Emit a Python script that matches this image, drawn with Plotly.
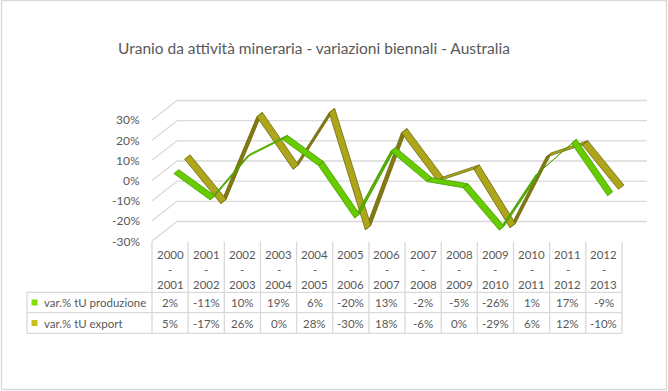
import plotly.graph_objects as go

# ---------------- data ----------------
start_years = ["2000", "2001", "2002", "2003", "2004", "2005", "2006",
               "2007", "2008", "2009", "2010", "2011", "2012"]
end_years = ["2001", "2002", "2003", "2004", "2005", "2006", "2007",
             "2008", "2009", "2010", "2011", "2012", "2013"]
prod = [2, -11, 10, 19, 6, -20, 13, -2, -5, -26, 1, 17, -9]
export = [5, -17, 26, 0, 28, -30, 18, -6, 0, -29, 6, 12, -10]
series_names = ["var.% tU produzione", "var.% tU export"]
y_ticks = [30, 20, 10, 0, -10, -20, -30]
y_tick_labels = ["30%", "20%", "10%", "0%", "-10%", "-20%", "-30%"]
title = "Uranio da attività mineraria - variazioni biennali - Australia"

# ---------------- geometry ----------------
W, H = 668, 391
X0 = 152.0      # px of left edge of first category (front plane)
CW = 36.15      # px per category
Y0 = 180.5      # px of 0% on front plane
PPU = 2.017     # px per 1%
DEP = (25.0, 19.5)  # px offset for full depth (right, up)
FONT = "Lato"
TXT = "#595959"
GRID = "#D9D9D9"


def ddx(d):
    return DEP[0] * d / CW


def ddy(d):
    return DEP[1] * d / PPU


def vy(py):
    return (Y0 - py) / PPU


def ux(px):
    return (px - X0) / CW - 0.5


def pxp(px):
    return px / W


def pyp(py):
    return 1 - py / H


fig = go.Figure()

# back wall gridlines + left side diagonals
shapes = []
for v in y_ticks:
    shapes.append(dict(type="line", xref="x", yref="y",
                       x0=-0.5 + ddx(1), x1=len(prod) - 0.5 + ddx(1),
                       y0=v + ddy(1), y1=v + ddy(1),
                       line=dict(color=GRID, width=1.3), layer="below"))
    shapes.append(dict(type="line", xref="x", yref="y",
                       x0=-0.5, x1=-0.5 + ddx(1),
                       y0=v, y1=v + ddy(1),
                       line=dict(color=GRID, width=1.3), layer="below"))


def ribbon(vals, d1, d2, light, dark, edge, name):
    tx, ty, bx, by = [], [], [], []
    for i in range(len(vals) - 1):
        a, b = vals[i], vals[i + 1]
        xs = [i + ddx(d1), i + 1 + ddx(d1), i + 1 + ddx(d2), i + ddx(d2), i + ddx(d1), None]
        ys = [a + ddy(d1), b + ddy(d1), b + ddy(d2), a + ddy(d2), a + ddy(d1), None]
        sx, sy = CW, (b - a) * PPU
        ex, ey = DEP[0] * (d2 - d1), DEP[1] * (d2 - d1)
        cross = sx * ey - sy * ex
        if cross >= 0:
            tx += xs
            ty += ys
        else:
            bx += xs
            by += ys
    fig.add_trace(go.Scatter(x=bx, y=by, mode="lines", fill="toself",
                             fillcolor=dark, line=dict(color=edge, width=0.8),
                             hoverinfo="skip", showlegend=False, name=name))
    fig.add_trace(go.Scatter(x=tx, y=ty, mode="lines", fill="toself",
                             fillcolor=light, line=dict(color=edge, width=0.8),
                             hoverinfo="skip", showlegend=False, name=name))


ribbon(export, 0.58, 0.8, "#ADA51A", "#827A10", "#6F6810", series_names[1])
ribbon(prod, 0.15, 0.35, "#66CC00", "#52B000", "#4A9A00", series_names[0])

annotations = []
# title
annotations.append(dict(text=title, xref="paper", yref="paper",
                        x=pxp(314), y=pyp(48), showarrow=False,
                        xanchor="center", yanchor="middle",
                        font=dict(family=FONT, size=15.5, color=TXT)))
# y tick labels
for v, lab in zip(y_ticks, y_tick_labels):
    annotations.append(dict(text=lab, xref="x", yref="y", x=ux(142), y=v,
                            showarrow=False, xanchor="right", yanchor="middle",
                            font=dict(family=FONT, size=12, color=TXT)))

# table
T_TOP, R1, R2, T_BOT = 241.7, 292.3, 312.7, 333.3
LEFT = 27.0
n = len(prod)
for k in range(n + 1):
    shapes.append(dict(type="line", xref="x", yref="y", x0=k - 0.5, x1=k - 0.5,
                       y0=vy(T_TOP), y1=vy(T_BOT), line=dict(color=GRID, width=1.3)))
for py in (R1, R2, T_BOT):
    shapes.append(dict(type="line", xref="x", yref="y", x0=ux(LEFT), x1=n - 0.5,
                       y0=vy(py), y1=vy(py), line=dict(color=GRID, width=1.3)))
shapes.append(dict(type="line", xref="x", yref="y", x0=ux(LEFT), x1=ux(LEFT),
                   y0=vy(R1), y1=vy(T_BOT), line=dict(color=GRID, width=1.3)))

tf = dict(family=FONT, size=11.5, color=TXT)
for i in range(n):
    annotations.append(dict(text=start_years[i], xref="x", yref="y", x=i, y=vy(254.5),
                            showarrow=False, font=tf))
    annotations.append(dict(text="-", xref="x", yref="y", x=i, y=vy(269.5),
                            showarrow=False, font=tf))
    annotations.append(dict(text=end_years[i], xref="x", yref="y", x=i, y=vy(284.5),
                            showarrow=False, font=tf))
    annotations.append(dict(text=f"{prod[i]}%", xref="x", yref="y", x=i, y=vy(302.5),
                            showarrow=False, font=tf))
    annotations.append(dict(text=f"{export[i]}%", xref="x", yref="y", x=i, y=vy(323),
                            showarrow=False, font=tf))

key_colors = ["#7FE000", "#C8BE1E"]
for j, (nm, kc, py) in enumerate(zip(series_names, key_colors, (302.5, 323))):
    shapes.append(dict(type="rect", xref="paper", yref="paper",
                       x0=pxp(31.5), x1=pxp(37.5), y0=pyp(py - 3), y1=pyp(py + 3),
                       fillcolor=kc, line=dict(width=0)))
    annotations.append(dict(text=nm, xref="paper", yref="paper", x=pxp(41.5), y=pyp(py),
                            showarrow=False, xanchor="left", yanchor="middle", font=tf))

# outer border
shapes.append(dict(type="rect", xref="paper", yref="paper",
                   x0=pxp(1.5), x1=pxp(666.5), y0=pyp(389.5), y1=pyp(0.5),
                   line=dict(color=GRID, width=1.3), fillcolor="rgba(0,0,0,0)"))

fig.update_layout(
    width=W, height=H,
    margin=dict(l=0, r=0, t=0, b=0),
    paper_bgcolor="white", plot_bgcolor="white",
    xaxis=dict(range=[ux(0), ux(W)], visible=False, fixedrange=True),
    yaxis=dict(range=[vy(H), vy(0)], visible=False, fixedrange=True),
    shapes=shapes, annotations=annotations, showlegend=False,
)

fig.write_html("out.html", config={"displayModeBar": False},
               post_script="document.body.style.margin='0';document.body.style.overflow='hidden';")
